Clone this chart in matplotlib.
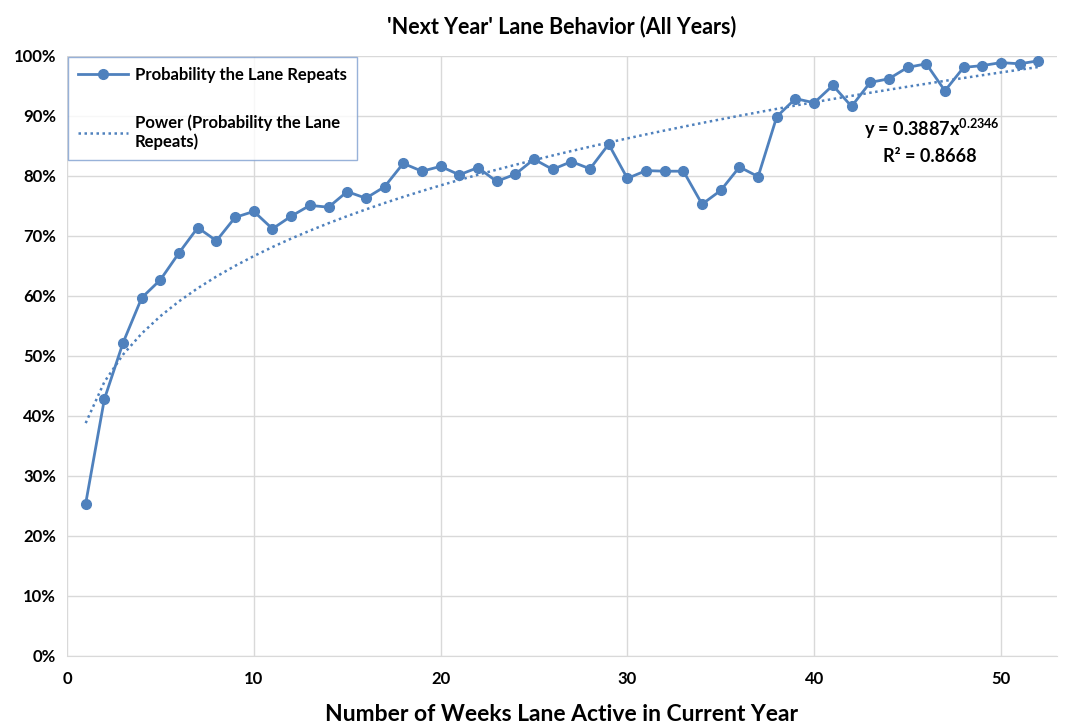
import numpy as np
import matplotlib
matplotlib.use("Agg")
import matplotlib.pyplot as plt
from matplotlib.ticker import PercentFormatter

# weeks active vs. probability the lane repeats next year
weeks = list(range(1, 53))
repeat_prob = [25.4, 42.8, 52.2, 59.7, 62.7, 67.2, 71.4, 69.2, 73.1, 74.1,
               71.2, 73.3, 75.1, 74.8, 77.4, 76.3, 78.2, 82.1, 80.8, 81.6,
               80.2, 81.4, 79.1, 80.3, 82.8, 81.1, 82.4, 81.2, 85.3, 79.6,
               80.9, 80.8, 80.8, 75.3, 77.6, 81.5, 79.9, 89.9, 92.9, 92.2,
               95.1, 91.6, 95.6, 96.2, 98.1, 98.7, 94.2, 98.1, 98.4, 98.9,
               98.7, 99.2]
eq_text = "y = 0.3887x$^{0.2346}$"
r2_text = "R² = 0.8668"

plt.rcParams['font.family'] = ['Lato', 'DejaVu Sans']
plt.rcParams['font.weight'] = 'bold'
plt.rcParams['mathtext.fontset'] = 'custom'
plt.rcParams['mathtext.bf'] = 'Lato:bold'
plt.rcParams['mathtext.rm'] = 'Lato:bold'
plt.rcParams['mathtext.default'] = 'bf'

blue = '#4f81bd'
grid = '#d9d9d9'

x = np.array(weeks, dtype=float)
y = np.array(repeat_prob) / 100.0

# power trendline (log-log least squares, like Excel)
b, loga = np.polyfit(np.log(x), np.log(y), 1)
trend = np.exp(loga) * x ** b

fig = plt.figure(figsize=(10.79, 7.26), dpi=100)
ax = fig.add_axes([67/1079, 1-656/726, (1057-67)/1079, 600/726])

ax.plot(x, y, color=blue, lw=2.0, marker='o', ms=7,
        label='Probability the Lane Repeats', zorder=3)
ax.plot(x, trend, color=blue, lw=1.8, linestyle=(0, (1, 1.4)),
        label='Power (Probability the Lane\nRepeats)', zorder=2)

ax.set_xlim(0, 53)
ax.set_ylim(0, 1.0)
ax.set_xticks([0, 10, 20, 30, 40, 50])
ax.set_yticks(np.arange(0, 1.01, 0.1))
ax.yaxis.set_major_formatter(PercentFormatter(1.0, decimals=0))
ax.grid(True, color=grid, lw=1)
ax.set_axisbelow(True)
for s in ['top', 'right', 'left']:
    ax.spines[s].set_visible(False)
ax.spines['bottom'].set_color(grid)
ax.tick_params(length=0, labelsize=12, pad=8)
ax.tick_params(axis='x', pad=11)
for t in ax.get_xticklabels() + ax.get_yticklabels():
    t.set_fontweight('bold')

ax.set_title("'Next Year' Lane Behavior (All Years)", fontsize=15.5,
             fontweight='bold', pad=16)
ax.set_xlabel('Number of Weeks Lane Active in Current Year', fontsize=16.5,
              fontweight='bold', labelpad=12)

leg = ax.legend(loc='upper left', bbox_to_anchor=(0.001, 0.999), fancybox=False,
                edgecolor='#7f9fd0', fontsize=12, labelspacing=1.9,
                borderpad=0.6, handlelength=3.0, handletextpad=0.4,
                borderaxespad=0)
leg.get_frame().set_linewidth(1.0)
for t in leg.get_texts():
    t.set_fontweight('bold')

ax.text(932/1079, 1-129/726, eq_text, transform=fig.transFigure,
        ha='center', va='center', fontsize=13, fontweight='bold')
ax.text(930/1079, 1-156/726, r2_text, transform=fig.transFigure,
        ha='center', va='center', fontsize=13, fontweight='bold')

fig.savefig('out.png', dpi=100)
